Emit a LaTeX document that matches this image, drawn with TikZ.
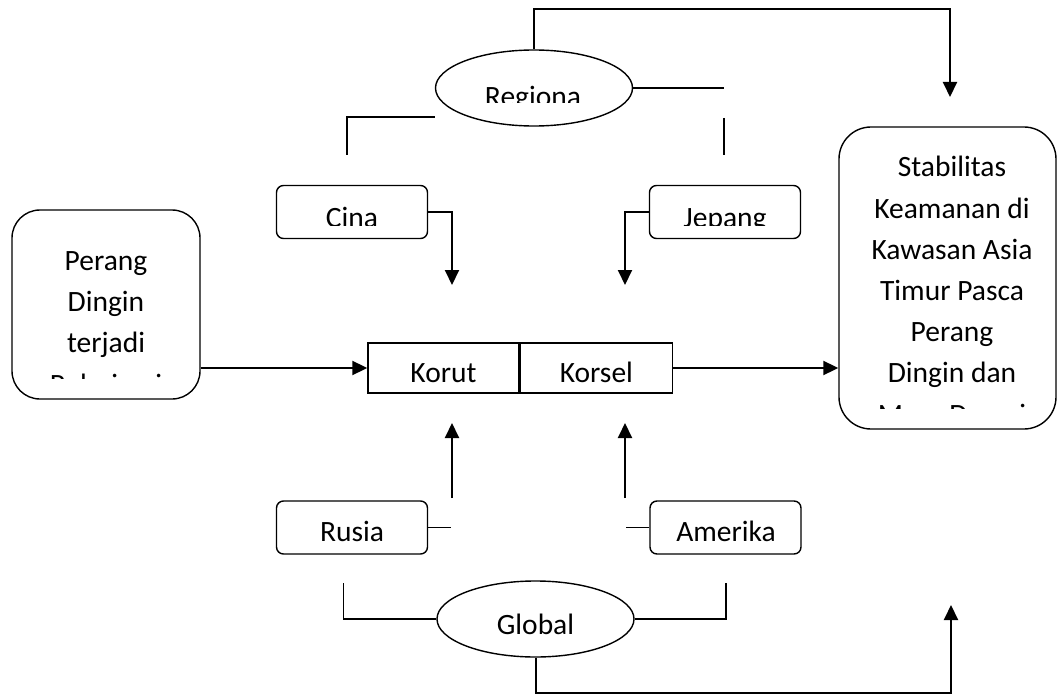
\documentclass[tikz,border=0pt]{standalone}
\usepackage{fontspec}
\setmainfont{Carlito}
\usetikzlibrary{shapes.geometric, arrows.meta, positioning}
\tikzstyle{block} = [rectangle, 
			draw, 
			rounded corners = 7bp, 
			line width = 1.4bp, 
			inner sep = 0pt, 
			minimum width = 151bp, 
			minimum height = 53bp]
\tikzstyle{bigblock} = [rectangle, 
			draw, 
			rounded corners = 28bp, 
			line width = 1.4bp, 
			inner sep = 0pt]
\tikzstyle{rect} = [rectangle, 
			draw, 
			line width = 1.4bp, 
			inner sep = 0pt, 
			text height = 28bp, 
			text depth = 0bp, 
			minimum width = 151bp, 
			minimum height = 50bp]
\tikzstyle{oval} = [ellipse, 
			draw, 
			line width = 1.4bp, 
			inner sep = 0pt, 
			minimum width = 197bp, 
			minimum height = 76bp]
\tikzstyle{txt} = [inner sep = 0pt, 
			align = center, 
			anchor = base, 
			font = \fontsize{29.5bp}{41.2bp}\selectfont]
\tikzstyle{line} = [draw, line width = 2bp, -{Triangle[length=15bp, width=14bp]}]
\tikzstyle{bracket} = [draw, line width = 1.4bp]

\begin{document}
\begin{tikzpicture}[x = 1bp, y = -1bp, font = \fontsize{29.5bp}{41.2bp}\selectfont]
	\useasboundingbox (0,0) rectangle (1058,696);
	% kotak utama
	\node [bigblock, minimum width = 188bp, minimum height = 189bp] (perang) at (106,304.5) {};
	\node [bigblock, rounded corners = 32bp, minimum width = 217bp, minimum height = 302bp] (stabil) at (947.5,278) {};
	\node [rect] (korut) at (443.5,368) {Korut};
	\node [rect, right = 0pt of korut, minimum width = 152bp] (korsel) {Korsel};
	% negara
	\node [block] (cina) at (352,212) {};
	\node [block] (jepang) at (725,212) {};
	\node [block] (rusia) at (352,527.5) {};
	\node [block] (amerika) at (725.5,527.5) {};
	\node [oval] (regional) at (534,88) {};
	\node [oval, text height = 30bp, text depth = 0bp] (global) at (535.5,619) {Global};
	% teks yang terpotong
	\begin{scope}
		\clip (perang.north west) rectangle (perang.east |- 0,378);
		\node [txt] (perangtext) at (106,394) {Perang\\Dingin\\terjadi\\Polarisasi};
	\end{scope}
	\begin{scope}
		\clip (stabil.north west) rectangle (stabil.east |- 0,408);
		\node [txt] (stabiltext) at (952,424) {Stabilitas\\Keamanan di\\Kawasan Asia\\Timur Pasca\\Perang\\Dingin dan\\Masa Damai};
	\end{scope}
	\begin{scope}
		\clip (cina.north west) rectangle (jepang.east |- 0,225);
		\node [txt] (cinatext) at (352,227) {Cina};
		\node [txt] (jepangtext) at (725,227) {Jepang};
	\end{scope}
	\begin{scope}
		\clip (rusia.north west) rectangle (amerika.east |- 0,541.5);
		\node [txt] (rusiatext) at (352,541) {Rusia};
		\node [txt] (amerikatext) at (726,541) {Amerika};
	\end{scope}
	\begin{scope}
		\clip (regional.north west) rectangle (regional.east |- 0,103);
		\node [txt] (regionaltext) at (533,107) {Regiona};
	\end{scope}
	% titik bebas
	\coordinate (toptip) at (950,97);
	\coordinate (bottip) at (951,605);
	\coordinate (cinatip) at (452,285);
	\coordinate (jepangtip) at (625,285);
	\coordinate (rusiafrom) at (452,498);
	\coordinate (rusiatip) at (452,423);
	\coordinate (amerikafrom) at (625,498);
	\coordinate (amerikatip) at (625,423);
	\coordinate (regleft) at (347,155);
	\coordinate (regright) at (724,88);
	\coordinate (regrightup) at (724,118);
	\coordinate (regrightdown) at (724,155);
	\coordinate (globleft) at (343.5,583);
	\coordinate (globright) at (726,583);
	% panah
	\path [line] (regional.north) |- (toptip |- 0,9.5) -- (toptip);
	\path [line] (global.south) |- (bottip |- 0,693) -- (bottip);
	\path [line] (perang.east |- korut) -- (korut.west);
	\path [line] (korsel.east) -- (stabil.west |- korsel);
	\path [line] (cina.east) -| (cinatip);
	\path [line] (jepang.west) -| (jepangtip);
	\path [line] (rusiafrom) -- (rusiatip);
	\path [line] (amerikafrom) -- (amerikatip);
	% garis
	\path [bracket] (rusia.east) -- ++(23,0);
	\path [bracket] (amerika.west) -- ++(-23,0);
	\path [bracket] (regional.west |- 0,117) -| (regleft);
	\path [bracket] (regional.east) -- (regright);
	\path [bracket] (regrightup) -- (regrightdown);
	\path [bracket] (global.west) -| (globleft);
	\path [bracket] (global.east) -| (globright);
\end{tikzpicture}
\end{document}
